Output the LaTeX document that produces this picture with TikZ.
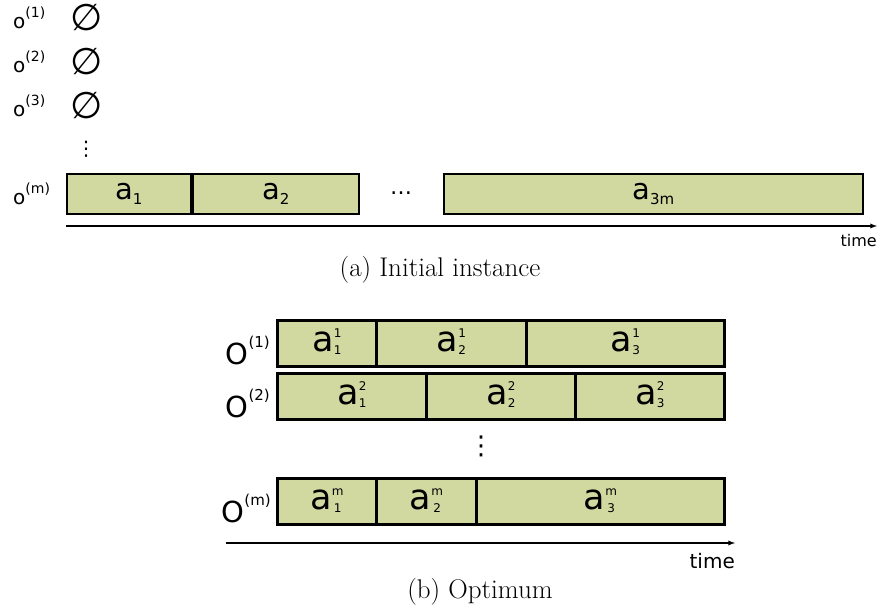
\documentclass[tikz,border=0pt]{standalone}
\usepackage{fontspec}
\usetikzlibrary{arrows}
\newfontfamily\labelfont{DejaVu Sans}
\definecolor{jobgreen}{RGB}{209,217,160}

% machine labels and job names
\newcommand{\mtop}[1]{o\raisebox{11pt}{\fontsize{14}{14}\selectfont(#1)}}
\newcommand{\mbot}[1]{O\raisebox{17pt}{\fontsize{15}{15}\selectfont(#1)}}
\newcommand{\asub}[1]{a\raisebox{-5pt}{\fontsize{15}{15}\selectfont#1}}
\newcommand{\ajob}[2]{a\raisebox{-3pt}{\fontsize{12}{12}\selectfont\begin{tabular}[b]{@{}c@{}}#1\\[5pt]#2\end{tabular}}}

\begin{document}
\begin{tikzpicture}[x=1pt,y=-1pt]
    \tikzstyle{job}=[draw=black,fill=jobgreen,line width=1.6pt,inner sep=0pt,anchor=north west,minimum height=40pt,font=\labelfont\fontsize{29}{29}\selectfont]
    \tikzstyle{optjob}=[draw=black,fill=jobgreen,line width=2.8pt,inner sep=0pt,anchor=north west,minimum height=46pt,font=\labelfont\fontsize{35}{35}\selectfont]
    \tikzstyle{smalllab}=[inner sep=0pt,anchor=base west,font=\labelfont\fontsize{20}{20}\selectfont]
    \tikzstyle{biglab}=[inner sep=0pt,anchor=base east,font=\labelfont\fontsize{29}{29}\selectfont]
    \tikzstyle{empty}=[inner sep=0pt,font=\labelfont\fontsize{37}{37}\selectfont]
    \tikzstyle{axis}=[draw=black,line width=1.3pt,-latex]
    \tikzstyle{caption}=[inner sep=0pt,font=\fontsize{27}{27}\selectfont]

    \useasboundingbox (0,0) rectangle (877,612);

    % (a) initial instance
    \node[smalllab] (o1) at (13, 29) {\mtop{1}};
    \node[smalllab] (o2) at (13, 73) {\mtop{2}};
    \node[smalllab] (o3) at (13,117) {\mtop{3}};
    \node[smalllab] (om) at (13,205) {\mtop{m}};

    \node[empty] (e1) at (87, 18) {∅};
    \node[empty] (e2) at (87, 62) {∅};
    \node[empty] (e3) at (87,106) {∅};
    \node[inner sep=0pt,font=\labelfont\fontsize{20}{20}\selectfont] (vd1) at (86,149) {⋮};

    \node[job,minimum width=124pt] (a1)  at ( 66,173) {\asub{1}};
    \node[job,minimum width=166pt] (a2)  at (192,173) {\asub{2}};
    \node[inner sep=0pt,font=\labelfont\fontsize{22}{22}\selectfont] (hd) at (401,193) {…};
    \node[job,minimum width=419pt] (a3m) at (443,173) {\asub{3m}};

    \coordinate (ta) at ( 66,226);
    \coordinate (tb) at (877,226);
    \path[axis] (ta) -- (tb);
    \node[inner sep=0pt,anchor=east,font=\labelfont\fontsize{16}{16}\selectfont] (timea) at (877,241) {time};

    \node[caption] (capa) at (440,270) {(a) Initial instance};

    % (b) optimum
    \def\ya{319}
    \def\yb{372}
    \def\ym{477}

    \node[biglab] (p1) at (270,364) {\mbot{1}};
    \node[biglab] (p2) at (270,417) {\mbot{2}};
    \node[biglab] (pm) at (271,522) {\mbot{m}};

    \node[optjob,minimum width= 99pt] (b11) at (276,\ya) {\ajob{1}{1}};
    \node[optjob,minimum width=150pt] (b12) at (375,\ya) {\ajob{1}{2}};
    \node[optjob,minimum width=198pt] (b13) at (525,\ya) {\ajob{1}{3}};

    \node[optjob,minimum width=149pt] (b21) at (276,\yb) {\ajob{2}{1}};
    \node[optjob,minimum width=149pt] (b22) at (425,\yb) {\ajob{2}{2}};
    \node[optjob,minimum width=149pt] (b23) at (574,\yb) {\ajob{2}{3}};

    \node[inner sep=0pt,font=\labelfont\fontsize{26}{26}\selectfont] (vd2) at (481,446) {⋮};

    \node[optjob,minimum width= 99pt] (bm1) at (276,\ym) {\ajob{m}{1}};
    \node[optjob,minimum width=100pt] (bm2) at (375,\ym) {\ajob{m}{2}};
    \node[optjob,minimum width=248pt] (bm3) at (475,\ym) {\ajob{m}{3}};

    \coordinate (tc) at (226,543);
    \coordinate (td) at (735,543);
    \path[axis] (tc) -- (td);
    \node[inner sep=0pt,anchor=east,font=\labelfont\fontsize{20}{20}\selectfont] (timeb) at (735,561) {time};

    \node[caption] (capb) at (480,592) {(b) Optimum};
\end{tikzpicture}
\end{document}
